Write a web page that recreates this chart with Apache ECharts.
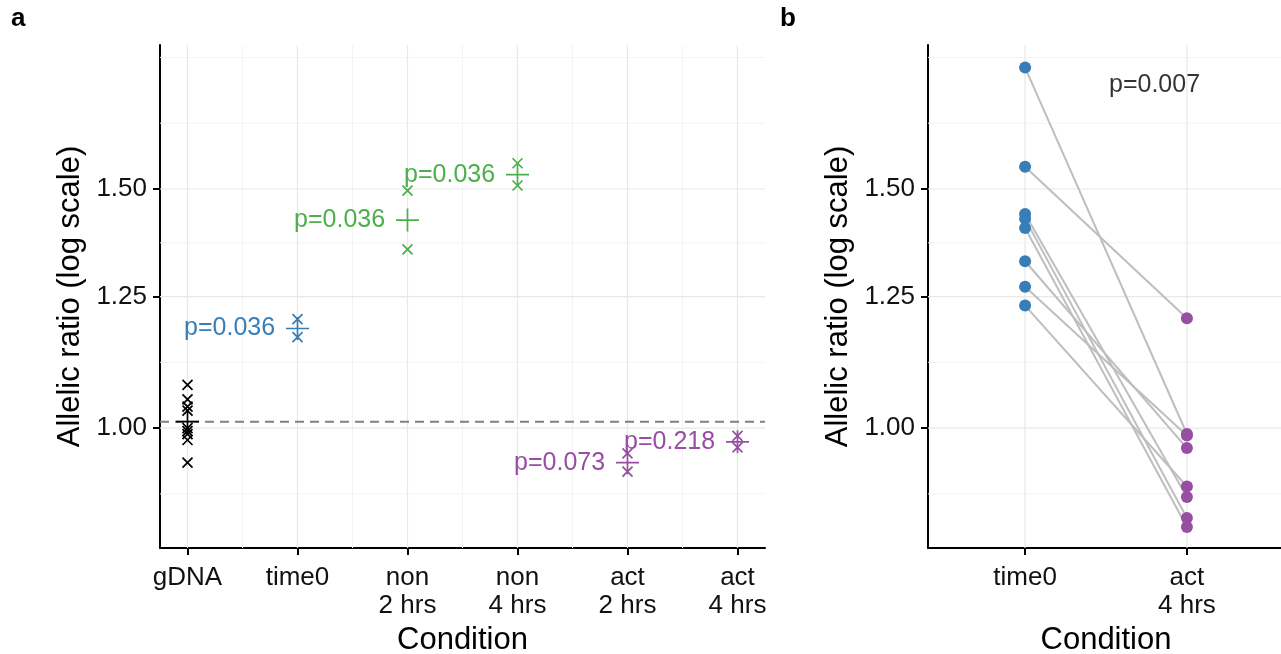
<!DOCTYPE html>
<html>
<head>
<meta charset="utf-8">
<script src="https://cdn.jsdelivr.net/npm/echarts@6/dist/echarts.min.js"></script>
<style>html,body{margin:0;padding:0;background:#fff}#c{width:1281px;height:654px}</style>
</head>
<body>
<div id="c"></div>
<script>
// ---------- data ----------
const aCats = ['gDNA', 'time0', 'non\n2 hrs', 'non\n4 hrs', 'act\n2 hrs', 'act\n4 hrs'];
const gDNA  = [1.076, 1.050, 1.037, 1.030, 1.000, 0.995, 0.990, 0.980, 0.943];
const time0 = [1.203, 1.167];
const non2  = [1.496, 1.354];
const non4  = [1.567, 1.509];
const act2  = [0.958, 0.929];
const act4  = [0.987, 0.968];
const groupMeans = [1.011, 1.184, 1.423, 1.537, 0.943, 0.977];
const pLabels = ['', 'p=0.036', 'p=0.036', 'p=0.036', 'p=0.073', 'p=0.218'];
const refLine = 1.011;

const bCats = ['time0', 'act\n4 hrs'];
const bTime0 = [1.843, 1.558, 1.438, 1.426, 1.404, 1.327, 1.271, 1.231];
const bAct4  = [0.990, 1.205, 0.8896, 0.8585, 0.8455, 0.9667, 0.9875, 0.9057];
const bP = 'p=0.007';

const yTicks = [1.00, 1.25, 1.50];

// ---------- styling ----------
const FONT = 'Liberation Sans, Arial, Helvetica, sans-serif';
const BLUE = '#377EB8', GREEN = '#4DAF4A', PURPLE = '#984EA3', BLACK = '#000000';
const TXT = '#111111';
const groupColors = [BLACK, BLUE, GREEN, GREEN, PURPLE, PURPLE];
const groups = [gDNA, time0, non2, non4, act2, act4];
const L = Math.log;
const yMin = L(0.816), yMax = L(1.915);
const xRangeA = [0.75, 6.25], xRangeB = [0.4, 2.6];

// minor breaks (ggplot-style midpoints in transformed space)
const yMajLn = yTicks.map(L);
const dY = yMajLn[1] - yMajLn[0];
const yExt = [yMajLn[0] - dY, ...yMajLn, yMajLn[yMajLn.length - 1] + dY];
const yMinLn = [];
for (let i = 0; i < yExt.length - 1; i++) yMinLn.push((yExt[i] + yExt[i + 1]) / 2);
yMinLn.push(yExt[0], yExt[yExt.length - 1]);
const yMinorIn = yMinLn.filter(v => v > yMin && v < yMax);

const MAJ = {color: '#e8e8e8', width: 1.2, type: 'solid', opacity: 1};
const MIN = {color: '#f4f4f4', width: 1, type: 'solid', opacity: 1};

function gl(idx, pts, style, z) {
  return {type: 'line', xAxisIndex: idx, yAxisIndex: idx, silent: true, z: z, symbol: 'none',
    data: pts, lineStyle: style, animation: false};
}
function gridLines(idx, xr, xMaj, xMin) {
  const s = [];
  xMin.forEach(v => s.push(gl(idx, [[v, yMin], [v, yMax]], MIN, 0)));
  yMinorIn.forEach(v => s.push(gl(idx, [[xr[0], v], [xr[1], v]], MIN, 0)));
  xMaj.forEach(v => s.push(gl(idx, [[v, yMin], [v, yMax]], MAJ, 1)));
  yMajLn.forEach(v => s.push(gl(idx, [[xr[0], v], [xr[1], v]], MAJ, 1)));
  return s;
}

const xPos = aCats.map((c, i) => i + 1);
const xMinorA = [];
for (let i = 0; i < xPos.length - 1; i++) xMinorA.push(xPos[i] + 0.5);

function xAxisCfg(idx, xr, cats) {
  const vals = cats.map((c, i) => i + 1);
  return {
    type: 'value', gridIndex: idx, min: xr[0], max: xr[1],
    axisLine: {show: true, onZero: false, lineStyle: {color: '#000', width: 2}},
    axisTick: {show: true, length: 7, customValues: vals, lineStyle: {color: '#000', width: 2}},
    minorTick: {show: false},
    minorSplitLine: {show: false},
    axisLabel: {customValues: vals, formatter: v => cats[Math.round(v) - 1] || '',
      fontSize: 26, lineHeight: 28, color: TXT, fontFamily: FONT, margin: 16},
    splitLine: {show: false},
    name: 'Condition', nameLocation: 'middle', nameGap: 76,
    nameTextStyle: {fontSize: 31, color: '#000', fontFamily: FONT}
  };
}
function yAxisCfg(idx) {
  return {
    type: 'value', gridIndex: idx, min: yMin, max: yMax,
    axisLine: {show: true, onZero: false, lineStyle: {color: '#000', width: 2}},
    axisTick: {show: true, length: 7, customValues: yMajLn, lineStyle: {color: '#000', width: 2}},
    minorTick: {show: false},
    minorSplitLine: {show: false},
    axisLabel: {customValues: yMajLn, formatter: v => Math.exp(v).toFixed(2),
      fontSize: 26, color: TXT, fontFamily: FONT, margin: 13},
    splitLine: {show: false},
    name: 'Allelic ratio (log scale)', nameLocation: 'middle', nameGap: 74,
    nameTextStyle: {fontSize: 31, color: '#000', fontFamily: FONT}
  };
}

const crossPath = 'path://M0,0L10,10M0,10L10,0';
const plusPath = 'path://M0,10L20,10M10,0L10,20';

const crossData = [];
groups.forEach((g, gi) => g.forEach(v => crossData.push({
  value: [gi + 1, L(v)],
  itemStyle: {color: 'transparent', borderColor: groupColors[gi], borderWidth: 1.7, opacity: 1}
})));

const meanData = groupMeans.map((m, i) => ({
  value: [i + 1, L(m)],
  itemStyle: {color: 'transparent', borderColor: groupColors[i], borderWidth: 1.7, opacity: 1},
  label: {show: !!pLabels[i], formatter: pLabels[i], color: groupColors[i]}
}));

const series = [
  ...gridLines(0, xRangeA, xPos, xMinorA),
  ...gridLines(1, xRangeB, [1, 2], []),
  gl(0, [[xRangeA[0], L(refLine)], [xRangeA[1], L(refLine)]],
     {color: '#808080', width: 2, type: [9, 6], opacity: 1}, 2),
  {
    type: 'scatter', xAxisIndex: 0, yAxisIndex: 0, z: 4, silent: true,
    symbol: crossPath, symbolSize: 10, data: crossData, itemStyle: {opacity: 1}
  },
  {
    type: 'scatter', xAxisIndex: 0, yAxisIndex: 0, z: 4, silent: true,
    symbol: plusPath, symbolSize: 23, data: meanData, itemStyle: {opacity: 1},
    label: {position: 'left', distance: 10, fontSize: 25, fontFamily: FONT, opacity: 1}
  }
];

bTime0.forEach((t, i) => series.push({
  type: 'line', xAxisIndex: 1, yAxisIndex: 1, silent: true, z: 2,
  data: [[1, L(t)], [2, L(bAct4[i])]], symbol: 'none',
  lineStyle: {color: '#bebebe', width: 2, opacity: 1}
}));
series.push({
  type: 'scatter', xAxisIndex: 1, yAxisIndex: 1, z: 4, silent: true, symbolSize: 12,
  itemStyle: {color: BLUE, opacity: 1}, data: bTime0.map(v => [1, L(v)])
});
series.push({
  type: 'scatter', xAxisIndex: 1, yAxisIndex: 1, z: 4, silent: true, symbolSize: 12,
  itemStyle: {color: PURPLE, opacity: 1}, data: bAct4.map(v => [2, L(v)])
});
series.push({
  type: 'scatter', xAxisIndex: 1, yAxisIndex: 1, z: 5, silent: true, symbolSize: 0,
  data: [[1.80, L(1.79)]],
  label: {show: true, position: 'inside', formatter: bP, fontSize: 25, color: '#000', fontFamily: FONT}
});

const chart = echarts.init(document.getElementById('c'), null, {renderer: 'canvas'});
chart.setOption({
  animation: false,
  backgroundColor: '#fff',
  grid: [
    {left: 160, top: 45, width: 605, height: 503, outerBoundsMode: 'none', containLabel: false},
    {left: 928, top: 45, width: 356, height: 503, outerBoundsMode: 'none', containLabel: false}
  ],
  xAxis: [xAxisCfg(0, xRangeA, aCats), xAxisCfg(1, xRangeB, bCats)],
  yAxis: [yAxisCfg(0), yAxisCfg(1)],
  graphic: [
    {type: 'text', left: 11, top: 6, style: {text: 'a', fontSize: 26, fontWeight: 'bold', fill: '#000', fontFamily: FONT}},
    {type: 'text', left: 780, top: 6, style: {text: 'b', fontSize: 26, fontWeight: 'bold', fill: '#000', fontFamily: FONT}}
  ],
  series: series
});
</script>
</body>
</html>
